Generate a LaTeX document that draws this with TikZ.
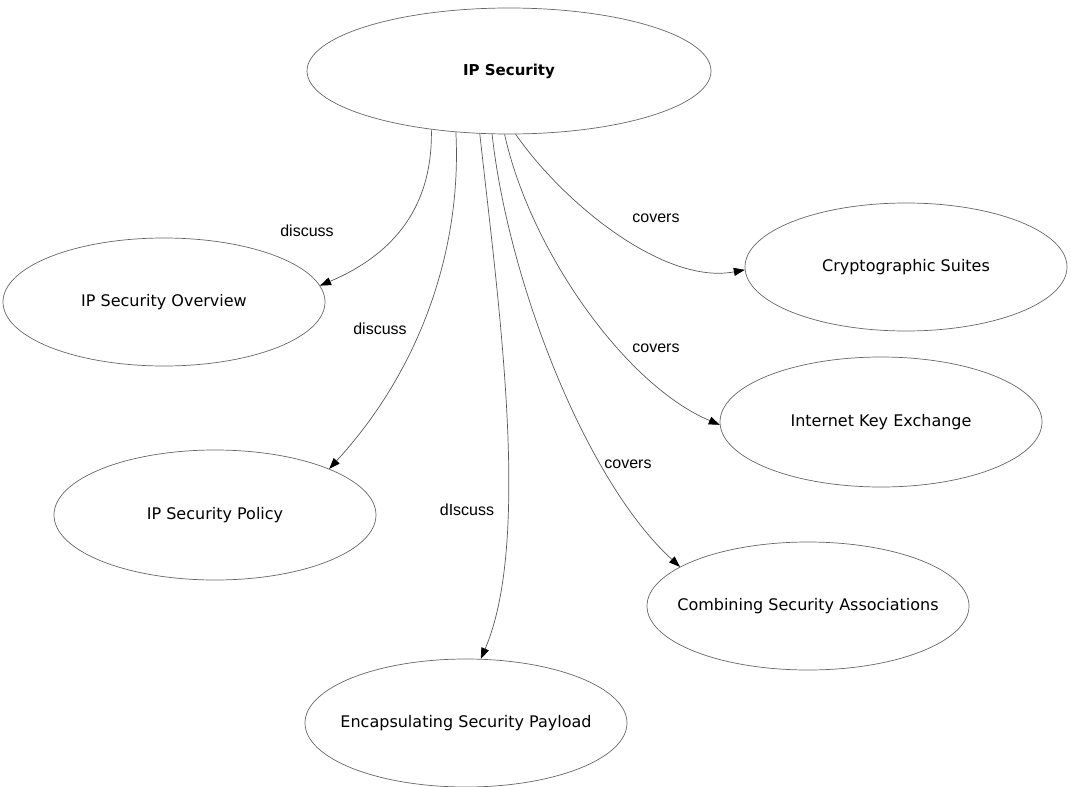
\documentclass[tikz,border=0pt]{standalone}
\usepackage{fontspec}
\setmainfont{DejaVu Sans}
\newfontfamily\labelfont{Liberation Sans}
\usetikzlibrary{shapes.geometric,arrows.meta}
\newcommand{\nolen}[1]{\makebox[0pt]{#1}}
\tikzset{
  topic/.style={draw=black!60, line width=0.7pt, ellipse, minimum width=322pt, minimum height=128pt, inner sep=0pt, font=\fontsize{16}{19}\selectfont},
  rel/.style={draw=black!65, line width=0.7pt, -{Triangle[length=11pt,width=8pt,color=black]}},
  lbl/.style={font=\labelfont\fontsize{16}{19}\selectfont, inner sep=0pt}
}
\begin{document}
\begin{tikzpicture}[x=1pt,y=-1pt]
\useasboundingbox (0,0) rectangle (1071,787);
\node[topic, minimum width=404pt, minimum height=126pt, font=\fontsize{15}{18}\selectfont\bfseries] (ip) at (509,71) {\nolen{IP Security}};
\node[topic] (over) at (164,302) {\nolen{IP Security Overview}};
\node[topic, minimum height=130pt] (pol) at (215,515) {\nolen{IP Security Policy}};
\node[topic] (esp) at (466,723) {\nolen{Encapsulating Security Payload}};
\node[topic] (csa) at (808,606) {\nolen{Combining Security Associations}};
\node[topic, minimum height=130pt] (ike) at (881,422) {\nolen{Internet Key Exchange}};
\node[topic] (cry) at (906,267) {\nolen{Cryptographic Suites}};

\node[lbl] (l1) at (307,231) {discuss};
\node[lbl] (l2) at (380,329) {discuss};
\node[lbl] (l3) at (467,510) {dIscuss};
\node[lbl] (l4) at (628,464) {covers};
\node[lbl] (l5) at (656,348) {covers};
\node[lbl] (l6) at (656,218) {covers};

\draw[rel] (ip.217) .. controls (433,215) and (385,258) .. (over.6.5);
\draw[rel] (ip.229) .. controls (462,250) and (420,370) .. (pol.22.5);
\draw[rel] (ip.245) .. controls (498,300) and (532,540) .. (esp.77);
\draw[rel] (ip.255.5) .. controls (508,280) and (585,480) .. (csa.163);
\draw[rel] (ip.266) .. controls (530,250) and (625,385) .. (ike.181.4);
\draw[rel] (ip.276.4) .. controls (565,205) and (665,285) .. (cry.181);
\end{tikzpicture}
\end{document}
